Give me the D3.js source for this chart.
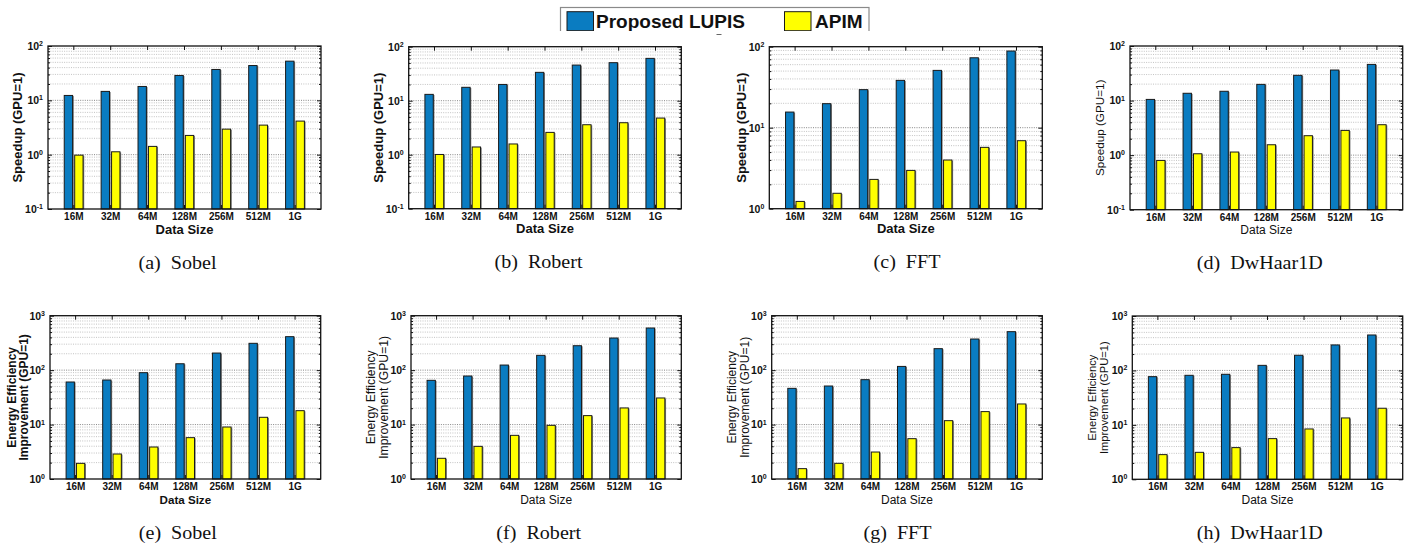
<!DOCTYPE html>
<html><head><meta charset="utf-8">
<script src="https://cdn.jsdelivr.net/npm/d3@7"></script>
<style>
body{margin:0;background:#fff;}
svg{display:block;}
</style></head>
<body>
<svg id="chart" width="1411" height="546"></svg>
<script>
// ---------- data ----------
const categories = ["16M","32M","64M","128M","256M","512M","1G"];
const seriesNames = ["Proposed LUPIS","APIM"];
const seriesColors = ["#0a7cc1","#ffff00"];

const sobelSpeedLUPIS  = [12.3,14.6,18.0,28.7,37.0,43.7,52.6];
const sobelSpeedAPIM   = [0.98,1.13,1.42,2.26,2.95,3.5,4.15];
const robertSpeedLUPIS = [13.1,17.7,20.0,33.5,45.7,50.6,60.8];
const robertSpeedAPIM  = [1.01,1.39,1.58,2.59,3.59,3.91,4.77];
const fftSpeedLUPIS    = [15.6,19.8,29.5,38.4,51.0,73.0,88.4];
const fftSpeedAPIM     = [1.23,1.55,2.30,2.97,3.99,5.72,6.91];
const haarSpeedLUPIS   = [10.5,13.6,14.8,19.8,29.0,36.3,46.0];
const haarSpeedAPIM    = [0.80,1.06,1.14,1.55,2.27,2.84,3.61];

const sobelEnergyLUPIS  = [60.5,65.9,89.8,131,206,311,412];
const sobelEnergyAPIM   = [1.94,2.88,3.87,5.75,9.02,13.6,18.0];
const robertEnergyLUPIS = [65.0,78.0,124,187,281,389,594];
const robertEnergyAPIM  = [2.40,3.98,6.34,9.68,14.6,20.2,30.8];
const fftEnergyLUPIS    = [46.3,51.1,66.8,117,248,373,509];
const fftEnergyAPIM     = [1.55,1.94,3.13,5.51,11.8,17.3,23.9];
const haarEnergyLUPIS   = [76.9,81.4,84.9,124,190,294,448];
const haarEnergyAPIM    = [2.84,3.13,3.82,5.59,8.41,13.4,20.2];

const speedDomain = [0.1,100];
const fftSpeedDomain = [1,100];
const energyDomain = [1,1000];

const speedLabel = ["Speedup (GPU=1)"];
const energyLabel = ["Energy Efficiency","Improvement (GPU=1)"];
const xLabel = "Data Size";
const captions = ["(a)  Sobel","(b)  Robert","(c)  FFT","(d)  DwHaar1D","(e)  Sobel","(f)  Robert","(g)  FFT","(h)  DwHaar1D"];

// ---------- layout ----------
const panels = [
 {l:48,r:321,t:46,b:209,dom:speedDomain,a:sobelSpeedLUPIS,p:sobelSpeedAPIM,yl:speedLabel,ylx:[17.7],yfs:13,ybold:true,xfs:13,xbold:true,cap:captions[0],cx:177.5},
 {l:408.7,r:681.3,t:46.7,b:208.7,dom:speedDomain,a:robertSpeedLUPIS,p:robertSpeedAPIM,yl:speedLabel,ylx:[378.3],yfs:13,ybold:true,xfs:13,xbold:true,cap:captions[1],cx:538.5},
 {l:769.3,r:1042.3,t:46.7,b:208.7,dom:fftSpeedDomain,a:fftSpeedLUPIS,p:fftSpeedAPIM,yl:speedLabel,ylx:[741.7],yfs:13,ybold:true,xfs:13,xbold:true,cap:captions[2],cx:907},
 {l:1130,r:1402.7,t:46,b:209.7,dom:speedDomain,a:haarSpeedLUPIS,p:haarSpeedAPIM,yl:speedLabel,ylx:[1100],yfs:11.7,ybold:false,xfs:12,xbold:false,cap:captions[3],cx:1259.7},
 {l:50,r:320.7,t:315.7,b:479,dom:energyDomain,a:sobelEnergyLUPIS,p:sobelEnergyAPIM,yl:energyLabel,ylx:[11.7,24],yfs:12,ybold:true,xfs:11.6,xbold:true,cap:captions[4],cx:177.8},
 {l:411,r:681.3,t:315.7,b:479,dom:energyDomain,a:robertEnergyLUPIS,p:robertEnergyAPIM,yl:energyLabel,ylx:[371,383.3],yfs:12.2,ybold:false,xfs:12,xbold:false,cap:captions[5],cx:538.7},
 {l:771.7,r:1042.3,t:315.7,b:479,dom:energyDomain,a:fftEnergyLUPIS,p:fftEnergyAPIM,yl:energyLabel,ylx:[731.7,744.3],yfs:12,ybold:false,xfs:12,xbold:false,cap:captions[6],cx:897.5},
 {l:1132.3,r:1402.7,t:316,b:479.3,dom:energyDomain,a:haarEnergyLUPIS,p:haarEnergyAPIM,yl:energyLabel,ylx:[1091.7,1104.3],yfs:11.2,ybold:false,xfs:12,xbold:false,cap:captions[7],cx:1259.7}
];

const svg = d3.select("#chart");
const SANS = "'Liberation Sans', Arial, sans-serif";
const SERIF = "'Liberation Serif', 'Times New Roman', serif";

panels.forEach(P => {
  const g = svg.append("g");
  const x0 = d3.scaleBand().domain(categories).range([P.l, P.r]).paddingInner(0).paddingOuter(0.2);
  const step = x0.bandwidth();
  const x1 = d3.scaleBand().domain(seriesNames).range([0.24*step, 0.75*step]).paddingInner(0.2);
  const y = d3.scaleLog().domain(P.dom).range([P.b, P.t]);

  // grid
  const lo = Math.round(Math.log10(P.dom[0])), hi = Math.round(Math.log10(P.dom[1]));
  const minor = [], major = [];
  for (let e = lo; e < hi; e++) {
    for (let k = 2; k <= 9; k++) minor.push(k*Math.pow(10,e));
  }
  for (let e = lo; e <= hi; e++) major.push(Math.pow(10,e));
  g.selectAll(".mg").data(minor).enter().append("line")
    .attr("x1",P.l).attr("x2",P.r).attr("y1",d=>y(d)).attr("y2",d=>y(d))
    .attr("stroke","#b4b4b4").attr("stroke-width",0.8).attr("stroke-dasharray","1,1.3");
  g.selectAll(".Mg").data(major.slice(1,-1)).enter().append("line")
    .attr("x1",P.l).attr("x2",P.r).attr("y1",d=>y(d)).attr("y2",d=>y(d))
    .attr("stroke","#777").attr("stroke-width",0.9).attr("stroke-dasharray","1,1.3");

  // bars
  const rows = categories.map((c,i)=>({c, vals:[P.a[i], P.p[i]]}));
  const grp = g.selectAll(".grp").data(rows).enter().append("g")
     .attr("transform", d=>`translate(${x0(d.c)},0)`);
  const bars = grp.selectAll("g").data(d=>d.vals.map((v,j)=>({v, s:seriesNames[j], j}))).enter().append("g");
  bars.append("rect")
     .attr("x", d=>x1(d.s)+1.2).attr("y", d=>y(d.v)+0.6)
     .attr("width", x1.bandwidth()).attr("height", d=>P.b - y(d.v)-0.6)
     .attr("fill","#808080");
  bars.append("rect")
     .attr("x", d=>x1(d.s)).attr("y", d=>y(d.v))
     .attr("width", x1.bandwidth()).attr("height", d=>P.b - y(d.v))
     .attr("fill", d=>seriesColors[d.j]).attr("stroke","#1a1a1a").attr("stroke-width",1);

  // axes
  const xAxis = d3.axisBottom(x0).tickSizeInner(-4).tickSizeOuter(0).tickPadding(4);
  const gx = g.append("g").attr("transform",`translate(0,${P.b})`).call(xAxis);
  gx.select(".domain").remove();
  gx.selectAll("text").attr("font-family",SANS).attr("font-size",10).attr("font-weight","bold").attr("fill","#111");
  gx.selectAll("line").attr("stroke","#111");

  const xTop = d3.axisTop(x0).tickSizeInner(-4).tickSizeOuter(0).tickFormat("");
  const gxt = g.append("g").attr("transform",`translate(0,${P.t})`).call(xTop);
  gxt.select(".domain").remove();
  gxt.selectAll("line").attr("stroke","#111");

  const yAxis = d3.axisLeft(y).tickValues(major).tickSizeInner(-4).tickSizeOuter(0).tickPadding(5)
     .tickFormat(d=>String(Math.round(Math.log10(d))));
  const gy = g.append("g").attr("transform",`translate(${P.l},0)`).call(yAxis);
  gy.select(".domain").remove();
  gy.selectAll("line").attr("stroke","#111");
  gy.selectAll("text").each(function(){
    const t = d3.select(this); const ex = t.text();
    t.text("").attr("font-family",SANS).attr("font-weight","bold").attr("fill","#111").attr("font-size",10.5);
    t.append("tspan").text("10");
    t.append("tspan").text(ex).attr("font-size",7).attr("dy","-0.55em");
  });
  const yMinorL = d3.axisLeft(y).tickValues(minor).tickSizeInner(-2).tickSizeOuter(0).tickFormat("");
  const gym = g.append("g").attr("transform",`translate(${P.l},0)`).call(yMinorL);
  gym.select(".domain").remove(); gym.selectAll("line").attr("stroke","#111");
  const yR = d3.axisRight(y).tickValues(major).tickSizeInner(-4).tickSizeOuter(0).tickFormat("");
  const gyr = g.append("g").attr("transform",`translate(${P.r},0)`).call(yR);
  gyr.select(".domain").remove(); gyr.selectAll("line").attr("stroke","#111");
  const yRm = d3.axisRight(y).tickValues(minor).tickSizeInner(-2).tickSizeOuter(0).tickFormat("");
  const gyrm = g.append("g").attr("transform",`translate(${P.r},0)`).call(yRm);
  gyrm.select(".domain").remove(); gyrm.selectAll("line").attr("stroke","#111");

  // frame
  g.append("rect").attr("x",P.l).attr("y",P.t).attr("width",P.r-P.l).attr("height",P.b-P.t)
    .attr("fill","none").attr("stroke","#111").attr("stroke-width",1.3);

  // y label
  const cy = (P.t+P.b)/2;
  P.yl.forEach((line,i)=>{
    g.append("text").attr("transform",`translate(${P.ylx[i]},${cy}) rotate(-90)`)
      .attr("text-anchor","middle").attr("dy","0.35em")
      .attr("font-family",SANS).attr("font-size",P.yfs).attr("font-weight",P.ybold?"bold":"normal")
      .attr("fill","#111").text(line);
  });
  // x label
  g.append("text").attr("x",(P.l+P.r)/2).attr("y",P.b+24.5).attr("text-anchor","middle")
    .attr("font-family",SANS).attr("font-size",P.xfs).attr("font-weight",P.xbold?"bold":"normal")
    .attr("fill","#111").text(xLabel);
  // caption
  g.append("text").attr("transform",`translate(${P.cx},${P.b+59.5}) scale(1.03,1)`).attr("text-anchor","middle")
    .attr("font-family",SERIF).attr("font-size",19.5).attr("fill","#111")
    .style("white-space","pre").text(P.cap);
});

// ---------- legend ----------
const defs = svg.append("defs");
defs.append("clipPath").attr("id","legclip").append("rect").attr("x",0).attr("y",0).attr("width",1411).attr("height",31);
const leg = svg.append("g").attr("clip-path","url(#legclip)");
leg.append("rect").attr("x",560.5).attr("y",7.5).attr("width",308.5).attr("height",40)
   .attr("fill","#fff").attr("stroke","#8a8a8a").attr("stroke-width",1.2);
const legItems = [{x:567, tx:596},{x:784.5, tx:815}];
seriesNames.forEach((s,i)=>{
  leg.append("rect").attr("x",legItems[i].x).attr("y",11.7).attr("width",26.5).attr("height",19)
    .attr("fill",seriesColors[i]).attr("stroke","#1a1a1a").attr("stroke-width",1);
  leg.append("text").attr("x",legItems[i].tx).attr("y",27.7)
    .attr("font-family",SANS).attr("font-weight","bold").attr("font-size",19).attr("fill","#111").text(s);
});
svg.append("line").attr("x1",716.5).attr("x2",721.5).attr("y1",34.5).attr("y2",34.5).attr("stroke","#666").attr("stroke-width",1);
</script>
</body></html>
